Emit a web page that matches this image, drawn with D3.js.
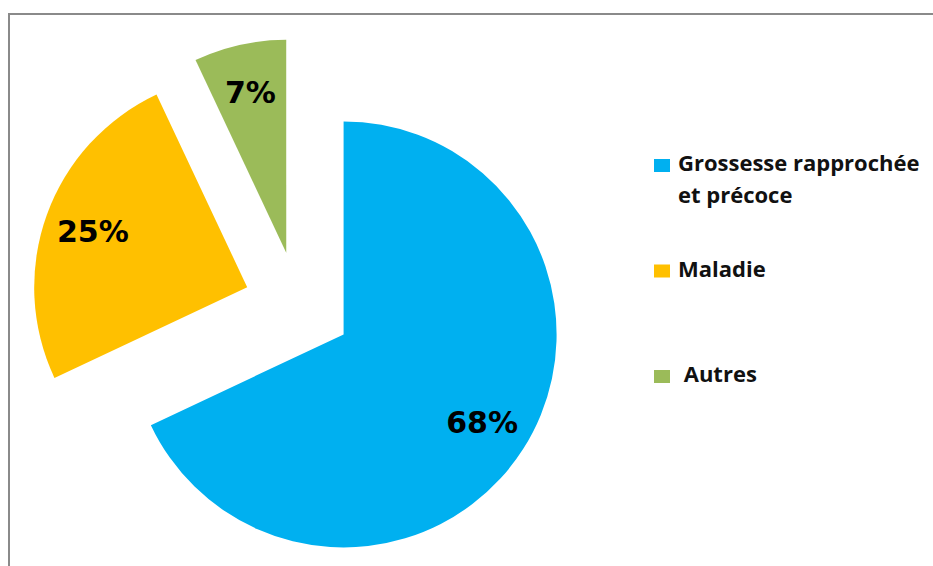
<!DOCTYPE html>
<html>
<head>
<meta charset="utf-8">
<script src="https://cdn.jsdelivr.net/npm/d3@7"></script>
<style>
  html, body { margin: 0; padding: 0; background: #fff; }
  svg { display: block; }
</style>
</head>
<body>
<svg id="chart" width="933" height="566"></svg>
<script>
// Causes, share in percent
const categories = ["Grossesse rapprochée et précoce", "Maladie", "Autres"];
const values = [68, 25, 7];
const colors = ["#00B0F0", "#FFC000", "#9BBB59"];
// Legend text, one array of lines per category
const legendLines = [["Grossesse rapprochée", "et précoce"], ["Maladie"], ["\u00A0Autres"]];

const W = 933, H = 566;
const svg = d3.select("#chart");

// Frame (only top and left edges fall inside the view)
svg.append("path")
  .attr("d", `M9,${H} L9,14 L${W},14`)
  .attr("fill", "none")
  .attr("stroke", "#8a8a8a")
  .attr("stroke-width", 2);

// Pie geometry
const cx = 298, cy = 305.5;
const radius = 213;
const explode = 54;
const labelDist = 164;

const pie = d3.pie().sort(null).value(d => d)(values);
const arc = d3.arc().innerRadius(0).outerRadius(radius);

const g = svg.append("g").attr("transform", `translate(${cx},${cy})`);

const slices = g.selectAll("g.slice")
  .data(pie)
  .join("g")
  .attr("class", "slice")
  .attr("transform", d => {
    const a = (d.startAngle + d.endAngle) / 2;
    return `translate(${explode * Math.sin(a)},${-explode * Math.cos(a)})`;
  });

slices.append("path")
  .attr("d", arc)
  .attr("fill", (d, i) => colors[i]);

slices.append("text")
  .attr("x", d => labelDist * Math.sin((d.startAngle + d.endAngle) / 2))
  .attr("y", d => -labelDist * Math.cos((d.startAngle + d.endAngle) / 2))
  .attr("text-anchor", "middle")
  .attr("dominant-baseline", "central")
  .attr("font-family", "DejaVu Sans")
  .attr("font-weight", "bold")
  .attr("font-size", 30)
  .attr("fill", "#000")
  .text(d => d.data + "%");

// Legend
const legend = svg.append("g").attr("transform", "translate(654,157)");
const items = legend.selectAll("g.item")
  .data(categories)
  .join("g")
  .attr("class", "item")
  .attr("transform", (d, i) => `translate(0,${i * 105.5})`);

items.append("rect")
  .attr("x", 0).attr("y", 2)
  .attr("width", 16).attr("height", 13)
  .attr("fill", (d, i) => colors[i]);

items.append("text")
  .attr("x", 24)
  .attr("y", 14)
  .attr("font-family", "Open Sans")
  .attr("font-weight", 700)
  .attr("font-size", 22)
  .attr("fill", "#111")
  .selectAll("tspan")
  .data((d, i) => legendLines[i])
  .join("tspan")
  .attr("x", 24)
  .attr("dy", (d, j) => j === 0 ? 0 : 32)
  .text(d => d);
</script>
</body>
</html>
